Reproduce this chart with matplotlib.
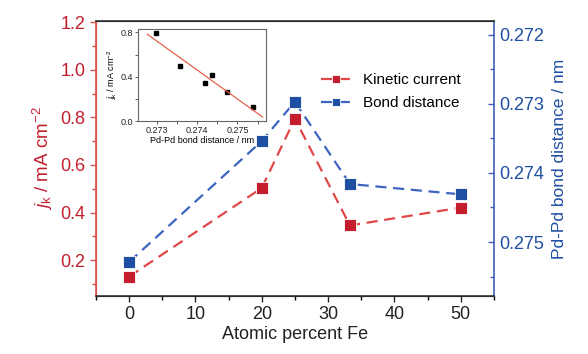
import matplotlib.pyplot as plt
from matplotlib.ticker import MultipleLocator
import numpy as np

plt.rcParams['font.family'] = ['Liberation Sans', 'DejaVu Sans']
plt.rcParams['mathtext.fontset'] = 'custom'
plt.rcParams['mathtext.rm'] = 'Liberation Sans'
plt.rcParams['mathtext.it'] = 'Liberation Sans:italic'

# main data
fe_percent = [0, 20, 25, 33.3, 50]
kinetic_current = [0.131, 0.503, 0.794, 0.346, 0.421]
bond_distance = [0.27529, 0.27354, 0.27297, 0.27416, 0.27431]

# inset data (j_k vs bond distance)
inset_dist = [0.27299, 0.27357, 0.27421, 0.27437, 0.27475, 0.27538]
inset_jk = [0.795, 0.499, 0.339, 0.416, 0.26, 0.126]

red = '#c41e2e'
red_line = '#e04848'
red_axis = '#d9504a'
blue = '#1f4fa3'
blue_line = '#3c64c0'
blue_axis = '#4060b8'

fig = plt.figure(figsize=(5.88, 3.54), dpi=100)
ax = fig.add_axes([0.163, 0.164, 0.677, 0.777])
ax2 = ax.twinx()

l1, = ax.plot(fe_percent, kinetic_current, '--s', color=red_line, mfc=red, mec='white',
              mew=0.6, ms=9, lw=1.6, dashes=(5, 3), label='Kinetic current')
l2, = ax2.plot(fe_percent, bond_distance, '--s', color=blue_line, mfc=blue, mec='white',
               mew=0.6, ms=9, lw=1.6, dashes=(5, 3), label='Bond distance')

ax.set_xlim(-5, 55)
ax.set_ylim(0.05, 1.205)
ax2.set_ylim(0.27578, 0.2718)

ax.xaxis.set_major_locator(MultipleLocator(10))
ax.xaxis.set_minor_locator(MultipleLocator(5))
ax.yaxis.set_major_locator(MultipleLocator(0.2))
ax.yaxis.set_minor_locator(MultipleLocator(0.1))
ax2.yaxis.set_major_locator(MultipleLocator(0.001))
ax2.yaxis.set_minor_locator(MultipleLocator(0.0005))
ax.yaxis.set_major_formatter(plt.FormatStrFormatter('%.1f'))
ax2.yaxis.set_major_formatter(plt.FormatStrFormatter('%.3f'))

ax.tick_params(axis='x', which='major', direction='out', length=4, width=1, labelsize=13, colors='#222222')
ax.tick_params(axis='x', which='minor', direction='out', length=3, width=1)
ax.tick_params(axis='y', which='major', direction='out', length=4, width=1, labelsize=13,
               colors=red_axis, labelcolor=red)
ax.tick_params(axis='y', which='minor', direction='out', length=3, width=1, colors=red_axis)
ax2.tick_params(axis='y', which='major', direction='in', length=4, width=1, labelsize=13,
                colors=blue_axis, labelcolor=blue)
ax2.tick_params(axis='y', which='minor', direction='in', length=3, width=1, colors=blue_axis)

ax2.spines['left'].set_color(red_axis)
ax2.spines['right'].set_color(blue_axis)
ax2.spines['top'].set_color('#333333')
ax2.spines['bottom'].set_color('#333333')
for s in ax2.spines.values():
    s.set_linewidth(1.2)
ax.spines['left'].set_color(red_axis)
ax.spines['right'].set_visible(False)

ax.set_xlabel('Atomic percent Fe', fontsize=13, color='#222222', labelpad=2)
ax.set_ylabel(r'$j_\mathrm{k}$ / mA cm$^{-2}$', fontsize=13.5, color=red, labelpad=4)
ax2.set_ylabel('Pd-Pd bond distance / nm', fontsize=12.5, color=blue, labelpad=6)

ax2.legend(handles=[l1, l2], loc='upper left', bbox_to_anchor=(0.53, 0.86), frameon=False,
           fontsize=11, handlelength=2.0, handletextpad=0.8, labelspacing=0.6, markerscale=0.7)

# inset
ins = fig.add_axes([0.235, 0.658, 0.217, 0.26])
ins.plot(inset_dist, inset_jk, 's', color='black', ms=3)
m, b = np.polyfit(inset_dist, inset_jk, 1)
xfit = np.array([0.27277, 0.27562])
ins.plot(xfit, m * xfit + b, color='#e8604a', lw=0.9)
ins.set_xlim(0.272546, 0.2757)
ins.set_ylim(0.0, 0.83)
ins.xaxis.set_major_locator(MultipleLocator(0.001))
ins.xaxis.set_minor_locator(MultipleLocator(0.0005))
ins.yaxis.set_major_locator(MultipleLocator(0.4))
ins.yaxis.set_minor_locator(MultipleLocator(0.2))
ins.xaxis.set_major_formatter(plt.FormatStrFormatter('%.3f'))
ins.yaxis.set_major_formatter(plt.FormatStrFormatter('%.1f'))
ins.tick_params(which='both', direction='out', labelsize=6.5, length=2, width=0.6, pad=1.5, colors='#444444',
                labelcolor='#222222')
for s in ins.spines.values():
    s.set_color('#666666')
    s.set_linewidth(0.8)
ins.set_xlabel('Pd-Pd bond distance / nm', fontsize=6.5, labelpad=1)
ins.set_ylabel(r'$j_\mathrm{k}$ / mA cm$^{-2}$', fontsize=6.5, labelpad=1)

fig.savefig('out.png', dpi=100)
